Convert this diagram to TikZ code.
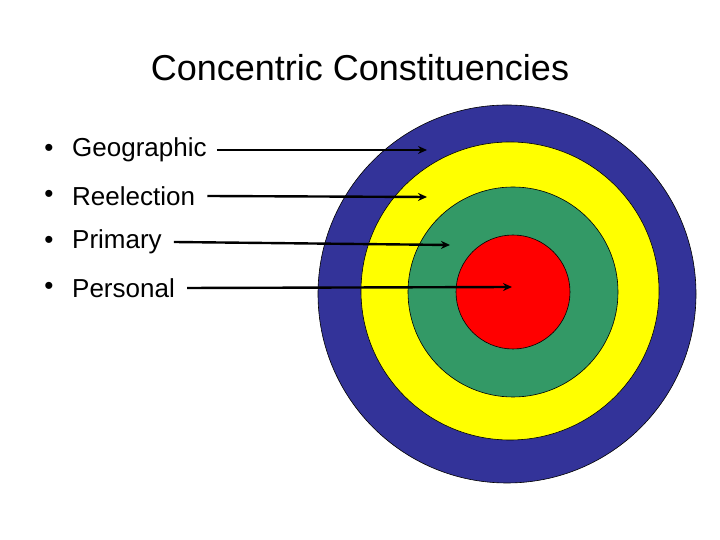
\documentclass[tikz,border=0pt]{standalone}
\usepackage{fontspec}
\setmainfont{Liberation Sans}
\usetikzlibrary{arrows.meta}
\definecolor{cblue}{RGB}{51,51,153}
\definecolor{cyel}{RGB}{255,255,0}
\definecolor{cgreen}{RGB}{51,153,102}
\definecolor{cred}{RGB}{255,0,0}
\begin{document}
\begin{tikzpicture}[x=1pt,y=1pt,
  ring/.style={draw=black,line width=0.6pt},
  lbl/.style={anchor=west,inner sep=0pt,font=\fontsize{26}{28}\selectfont},
  bul/.style={anchor=center,inner sep=0pt,font=\fontsize{26}{28}\selectfont},
  arr/.style={line width=2.4pt,-{Stealth[length=9pt,width=8pt]}}]
\useasboundingbox (0,0) rectangle (720,540);
\fill[white] (0,0) rectangle (720,540);
\node[font=\fontsize{36}{40}\selectfont] (title) at (360,472) {Concentric Constituencies};
\fill[cblue,ring] (507,246) circle (189);
\fill[cyel,ring] (510,249) circle (149);
\fill[cgreen,ring] (513,248) circle (105);
\fill[cred,ring] (513,248) circle (57);
\node[bul] (b1) at (49,390) {•};
\node[bul] (b2) at (49,344) {•};
\node[bul] (b3) at (49,298) {•};
\node[bul] (b4) at (49,252) {•};
\node[lbl] (g) at (72,390) {Geographic};
\node[lbl] (r) at (72,344) {Reelection};
\node[lbl] (p) at (72,298) {Primary};
\node[lbl] (s) at (72,252) {Personal};
\coordinate (eg) at (427,390);
\coordinate (er) at (427,343);
\coordinate (ep) at (450,295);
\coordinate (es) at (512,253);
\draw[arr] ([xshift=10pt]g.east) -- (eg);
\draw[arr] ([xshift=12pt]r.east) -- (er);
\draw[arr] ([xshift=12pt]p.east) -- (ep);
\draw[arr] ([xshift=12pt]s.east) -- (es);
\end{tikzpicture}
\end{document}
